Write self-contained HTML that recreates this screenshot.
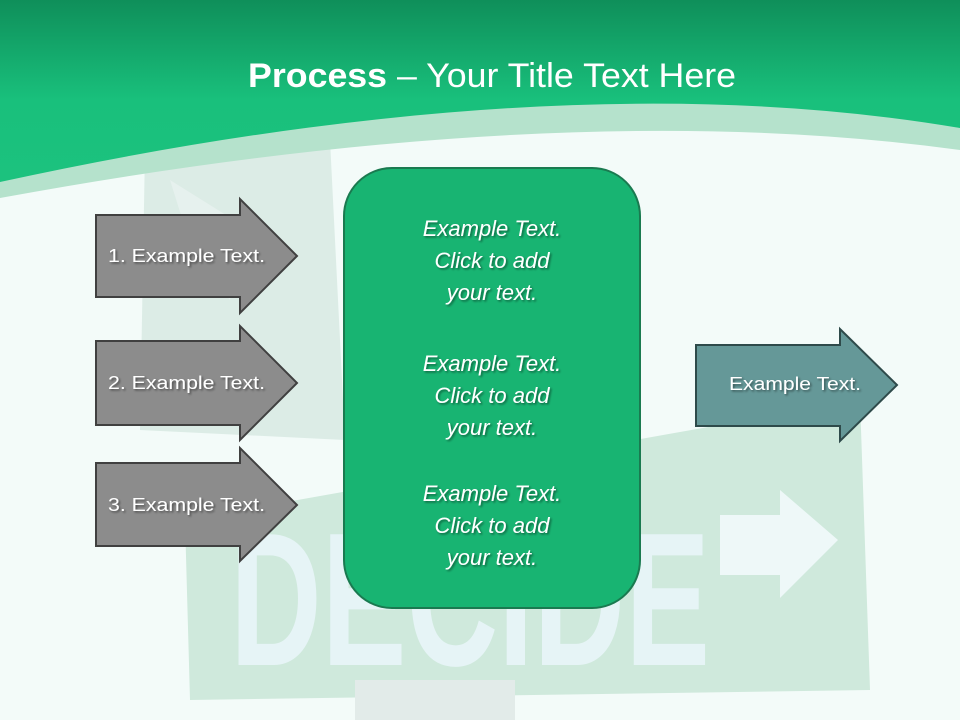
<!DOCTYPE html>
<html><head><meta charset="utf-8"><style>
html,body{margin:0;padding:0;}
body{width:960px;height:720px;overflow:hidden;background:#f1faf8;}
svg{display:block;}
text{font-family:"Liberation Sans",sans-serif;}
</style></head><body>
<svg width="960" height="720" viewBox="0 0 960 720" xmlns="http://www.w3.org/2000/svg">
<defs>
<linearGradient id="hdr" x1="0" y1="0" x2="0" y2="1">
<stop offset="0" stop-color="#0f8f5a"/><stop offset="0.55" stop-color="#19c07c"/><stop offset="1" stop-color="#1cc27e"/>
</linearGradient>
<filter id="sh" x="-10%" y="-10%" width="130%" height="130%"><feDropShadow dx="1.5" dy="1.5" stdDeviation="1" flood-color="#000" flood-opacity="0.45"/></filter>
</defs>
<rect width="960" height="720" fill="#f3fbf9"/>
<!-- faint background signs -->
<polygon points="145,150 330,140 345,440 140,430" fill="#d6e8e1" opacity="0.8"/>
<polygon points="170,180 250,230 230,300 195,260" fill="#e6f1ee"/>
<polygon points="185,520 860,400 870,690 190,700" fill="#cfe9dc"/>
<text x="230" y="665" font-size="190" font-weight="bold" fill="#e6f4f6" textLength="480" lengthAdjust="spacingAndGlyphs">DECIDE</text>
<polygon points="720,515 780,515 780,490 838,540 780,598 780,575 720,575" fill="#eef8f8"/>
<rect x="355" y="680" width="160" height="40" fill="#e2ebe9"/>
<!-- header -->
<path d="M0,0 H960 V150 Q560,95 0,198 Z" fill="#b5e2cc"/>
<path d="M0,0 H960 V128 Q560,60 0,182 Z" fill="url(#hdr)"/>
<text x="492" y="87" font-size="34" fill="#fff" text-anchor="middle" textLength="488" lengthAdjust="spacingAndGlyphs"><tspan font-weight="bold">Process</tspan> – Your Title Text Here</text>
<!-- left arrows -->
<g stroke="#404040" stroke-width="2" fill="#8c8c8c">
<polygon points="96,215 240,215 240,199 297,256 240,313 240,297 96,297"/>
<polygon points="96,341 240,341 240,326 297,383 240,440 240,425 96,425"/>
<polygon points="96,463 240,463 240,448 297,505 240,561 240,546 96,546"/>
</g>
<g font-size="18" fill="#fff" filter="url(#sh)">
<text x="108" y="262" textLength="157" lengthAdjust="spacingAndGlyphs">1. Example Text.</text>
<text x="108" y="389" textLength="157" lengthAdjust="spacingAndGlyphs">2. Example Text.</text>
<text x="108" y="511" textLength="157" lengthAdjust="spacingAndGlyphs">3. Example Text.</text>
</g>
<!-- right arrow -->
<polygon points="696,345 840,345 840,329 897,385 840,441 840,426 696,426" fill="#659898" stroke="#2e4a4a" stroke-width="2"/>
<text x="795" y="390" font-size="18" fill="#fff" text-anchor="middle" filter="url(#sh)" textLength="132" lengthAdjust="spacingAndGlyphs">Example Text.</text>
<!-- center box -->
<rect x="344" y="168" width="296" height="440" rx="48" fill="#18b472" stroke="#1a7a50" stroke-width="2"/>
<g font-size="22" font-style="italic" fill="#fff" text-anchor="middle" filter="url(#sh)">
<text x="492" y="236">Example Text.</text>
<text x="492" y="268">Click  to add</text>
<text x="492" y="300">your text.</text>
<text x="492" y="371">Example Text.</text>
<text x="492" y="403">Click  to add</text>
<text x="492" y="435">your text.</text>
<text x="492" y="501">Example Text.</text>
<text x="492" y="533">Click  to add</text>
<text x="492" y="565">your text.</text>
</g>
</svg>
</body></html>
